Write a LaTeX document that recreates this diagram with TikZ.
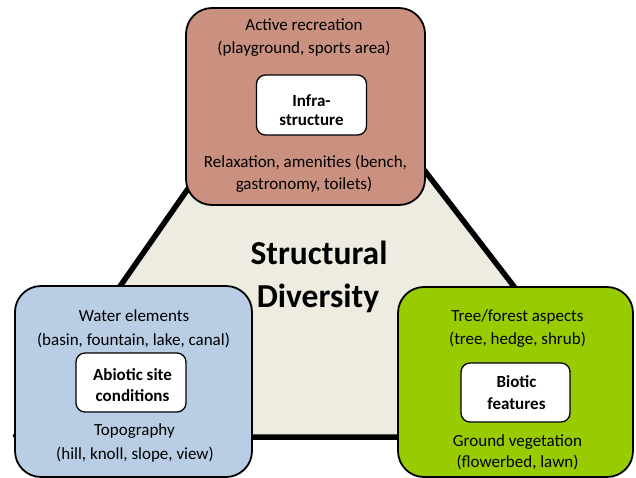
\documentclass[tikz,border=0pt]{standalone}
\usepackage{fontspec}
\setmainfont{Carlito}
\definecolor{topc}{RGB}{202,145,128}
\definecolor{leftc}{RGB}{185,205,228}
\definecolor{rightc}{RGB}{153,204,0}
\definecolor{cream}{RGB}{238,236,225}
\begin{document}
\begin{tikzpicture}[x=1pt,y=-1pt,
  bigbox/.style={draw=black, line width=1.8pt, rounded corners=26pt, inner sep=0pt},
  inbox/.style={draw=black, fill=white, line width=1.3pt, rounded corners=9pt, inner sep=0pt},
  lbl/.style={font=\fontsize{17}{21}\selectfont, anchor=base, inner sep=0pt},
  blbl/.style={font=\fontsize{17}{21}\selectfont\bfseries, anchor=base, inner sep=0pt},
  title/.style={font=\fontsize{33.5}{40}\selectfont\bfseries, anchor=base, inner sep=0pt}]
\useasboundingbox (0,0) rectangle (636,477);
\clip (0,0) rectangle (636,477);
\fill[white] (0,0) rectangle (636,477);
% triangle
\coordinate (apex) at (307,18);
\coordinate (bl) at (15,437);
\coordinate (br) at (630,437);
\draw[fill=cream, line width=5.5pt, line join=bevel] (apex) -- (bl) -- (br) -- cycle;
% title
\node[title] (t1) at (319,264) {Structural};
\node[title] (t2) at (318,307.5) {Diversity};
% top box
\node[bigbox, fill=topc, minimum width=239pt, minimum height=197pt] (top) at (305.5,106.5) {};
\node[inbox, minimum width=110pt, minimum height=60pt] (infra) at (311.5,105) {};
\node[lbl] (a1) at (304,30.5) {Active recreation};
\node[lbl] (a2) at (304,53) {(playground, sports area)};
\node[blbl] (i1) at (311.5,106) {Infra-};
\node[blbl] (i2) at (311.5,125) {structure};
\node[lbl] (r1) at (305.5,167) {Relaxation, amenities (bench,};
\node[lbl] (r2) at (304,189) {gastronomy, toilets)};
% left box
\node[bigbox, fill=leftc, minimum width=237pt, minimum height=191pt] (left) at (133.5,381.5) {};
\node[inbox, minimum width=110pt, minimum height=59pt] (abio) at (131,382.5) {};
\node[lbl] (w1) at (134,321) {Water elements};
\node[lbl] (w2) at (133.5,345) {(basin, fountain, lake, canal)};
\node[blbl] (b1) at (132.5,380) {Abiotic site};
\node[blbl] (b2) at (132.5,401.5) {conditions};
\node[lbl] (p1) at (134.5,435) {Topography};
\node[lbl] (p2) at (135,459) {(hill, knoll, slope, view)};
% right box
\node[bigbox, fill=rightc, minimum width=235pt, minimum height=190pt] (right) at (515.5,382) {};
\node[inbox, minimum width=109pt, minimum height=59pt] (bio) at (515.5,392.5) {};
\node[lbl] (f1) at (517.5,321) {Tree/forest aspects};
\node[lbl] (f2) at (517.5,344) {(tree, hedge, shrub)};
\node[blbl] (c1) at (516.5,387.5) {Biotic};
\node[blbl] (c2) at (516.5,409) {features};
\node[lbl] (g1) at (517.5,446) {Ground vegetation};
\node[lbl] (g2) at (517.5,467.5) {(flowerbed, lawn)};
\end{tikzpicture}
\end{document}
